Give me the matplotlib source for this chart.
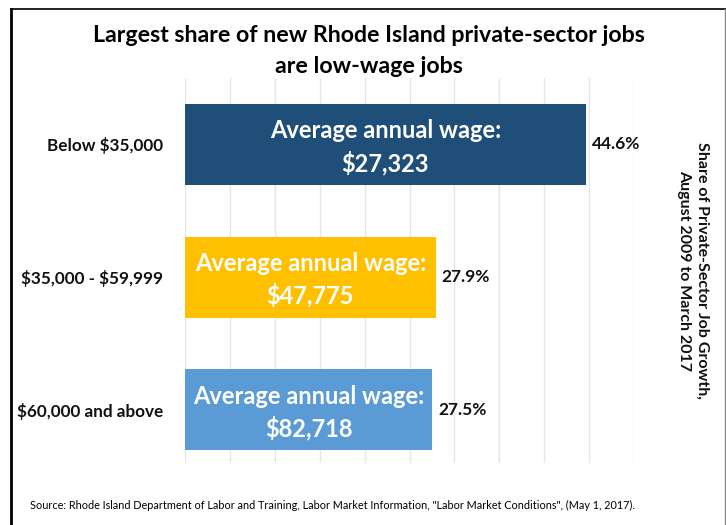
import matplotlib
matplotlib.use("Agg")
import matplotlib.pyplot as plt

plt.rcParams['font.family'] = ['Lato', 'DejaVu Sans']
plt.rcParams['text.parse_math'] = False

categories = ["Below $35,000", "$35,000 - $59,999", "$60,000 and above"]
shares = [44.6, 27.9, 27.5]
wages = ["$27,323", "$47,775", "$82,718"]
colors = ["#1F4E79", "#FFC000", "#5B9BD5"]

fig = plt.figure(figsize=(7.26, 5.25), dpi=100)
ax = fig.add_axes([0.2548, 0.1181, 0.6185, 0.7333])

ypos = list(range(len(categories)))
ax.barh(ypos, shares, height=0.61, color=colors, zorder=3)
ax.set_xlim(0, 50)
ax.set_ylim(2.4, -0.5)
ax.set_xticks([i * 5 for i in range(11)])
ax.xaxis.grid(True, color="#E6E6E6", linewidth=1, zorder=0)
ax.tick_params(axis="x", length=0, labelbottom=False)
ax.tick_params(axis="y", length=0, pad=16)
ax.set_yticks(ypos)
ax.set_yticklabels(categories, fontsize=12.3, fontweight="bold", color="#111111")
for s in ax.spines.values():
    s.set_visible(False)

for y, v, w in zip(ypos, shares, wages):
    ax.text(v / 2, y + 0.02, "Average annual wage:\n" + w, ha="center", va="center",
            color="white", fontsize=17, fontweight="bold", linespacing=1.4, zorder=4)
    ax.text(v + 0.7, y, f"{v}%", ha="left", va="center", fontsize=12.5,
            fontweight="bold", color="#111111", zorder=4)

fig.text(0.508, 0.903, "Largest share of new Rhode Island private-sector jobs\nare low-wage jobs",
         ha="center", va="center", fontsize=16.7, fontweight="bold", linespacing=1.55)

fig.text(0.955, 0.485, "Share of Private-Sector Job Growth,\nAugust 2009 to March 2017",
         ha="center", va="center", rotation=-90, fontsize=11.5, fontweight="bold",
         linespacing=1.4, color="#111111")

fig.text(0.041, 0.037, 'Source: Rhode Island Department of Labor and Training, Labor Market Information, "Labor Market Conditions", (May 1, 2017).',
         ha="left", va="center", fontsize=7.8)

# figure frame
fig.add_artist(plt.Line2D([11 / 726, 11 / 726], [0, 1 - 9 / 525], transform=fig.transFigure,
                          color="black", linewidth=2))
fig.add_artist(plt.Line2D([11 / 726, 1], [1 - 9 / 525, 1 - 9 / 525], transform=fig.transFigure,
                          color="black", linewidth=1.2))
fig.add_artist(plt.Line2D([725 / 726, 725 / 726], [0, 1 - 9 / 525], transform=fig.transFigure,
                          color="#888888", linewidth=1))

fig.savefig("out.png", dpi=100)
